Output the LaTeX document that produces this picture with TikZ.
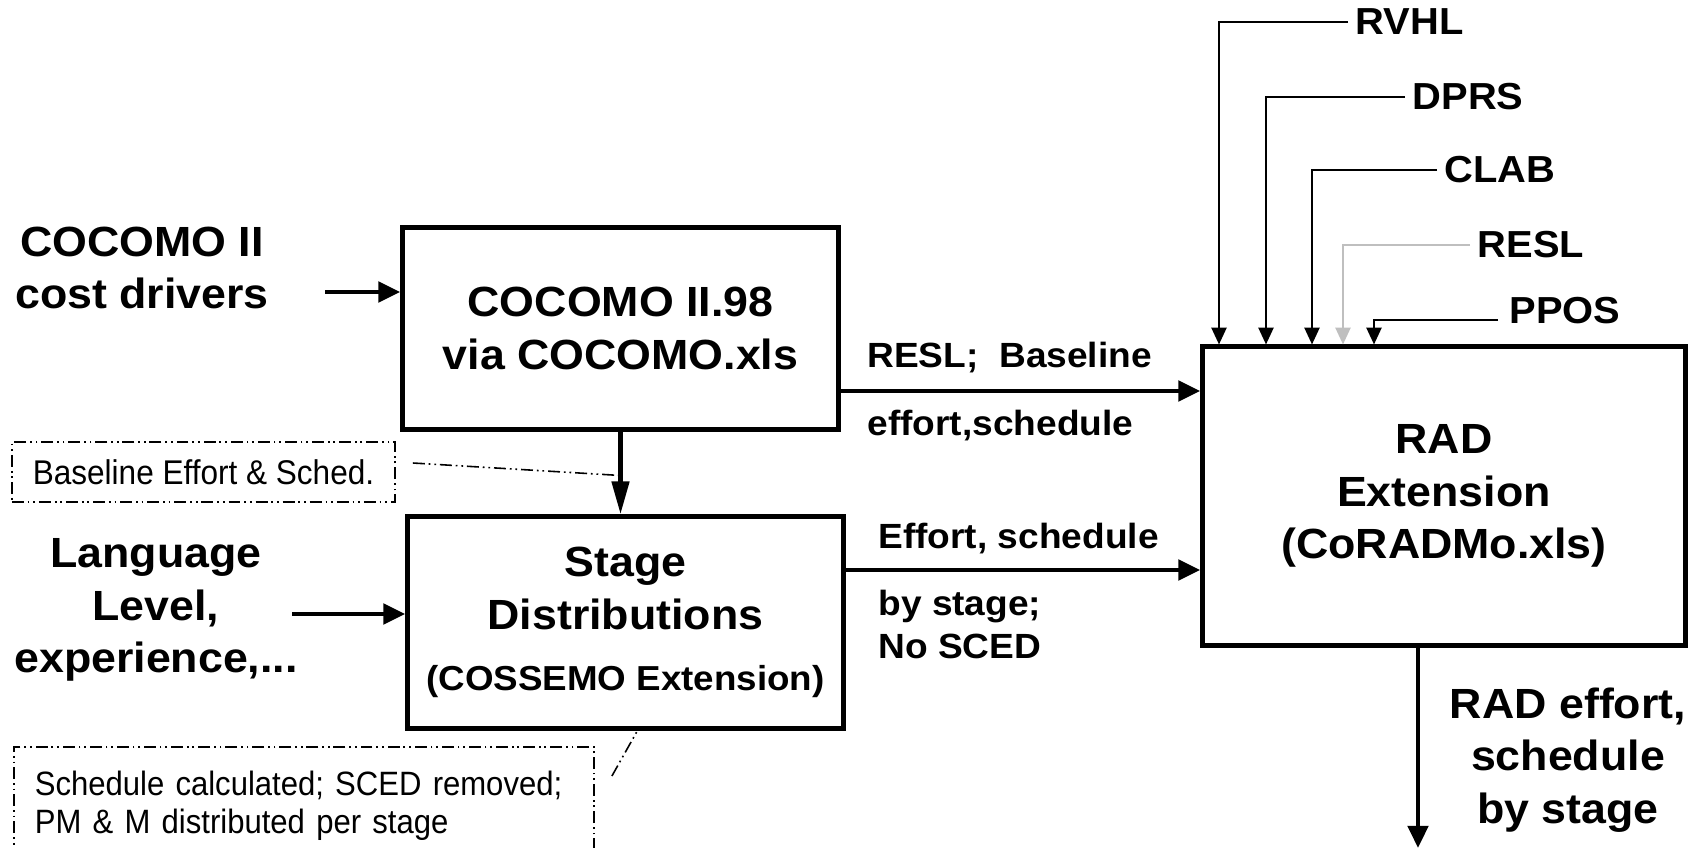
\documentclass[tikz,border=0pt]{standalone}
\usepackage{fontspec}
\setmainfont{Liberation Sans}[FakeStretch=1.06]
\newfontfamily\notefont{Liberation Sans}[FakeStretch=0.92]
\usetikzlibrary{arrows.meta,calc}

\begin{document}
\begin{tikzpicture}[x=0.01cm,y=-0.01cm,>={Triangle[length=6.3pt,width=5.7pt]},
        line width=1.4pt,
        box/.style={draw,line width=1.4pt,align=center,inner sep=0pt,
            font=\bfseries\fontsize{12}{15}\selectfont},
        big label/.style={align=center,font=\bfseries\fontsize{12}{15}\selectfont},
        flow label/.style={anchor=base west,inner sep=0pt,font=\bfseries\fontsize{9.95}{12}\selectfont},
        input label/.style={anchor=west,inner xsep=1.5pt,font=\bfseries\fontsize{10.7}{12}\selectfont},
        dashdotdot/.style={line width=0.45pt,
            dash pattern=on 3.4pt off 1.1pt on 0.5pt off 1.1pt on 0.5pt off 1.1pt},
        note/.style={draw,dashdotdot,inner sep=0pt,font=\notefont\fontsize{9.75}{10.8}\selectfont},
        in arrow/.style={-{Triangle[length=4.8pt,width=4.3pt]},line width=0.6pt}]

    \useasboundingbox (0,0) rectangle (1696,848);
    \clip (0,0) rectangle (1696,848);

    % boxes
    \node[box,minimum width=4.35cm,minimum height=2.01cm] (cocomo) at (620.5,328.5)
        {COCOMO II.98\\via COCOMO.xls};
    \node[box,minimum width=4.35cm,minimum height=2.11cm] (stage) at (625.5,622.5)
        {Stage\\Distributions\\[2.5pt]{\fontsize{9.86}{10}\selectfont(COSSEMO Extension)}};
    \node[box,minimum width=4.82cm,minimum height=2.98cm] (rad) at (1444,496)
        {RAD\\Extension\\(CoRADMo.xls)};

    % outside inputs and result
    \node[big label] (drivers) at (142,268) {COCOMO II\\cost drivers};
    \node[big label] (lang) at (156,610) {Language\\Level,\\experience,...};
    \node[big label] (result) at (1568,760) {RAD effort,\\schedule\\by stage};

    % notes
    \node[note,minimum width=3.83cm,minimum height=0.6cm] (basenote) at (203.5,472)
        {Baseline Effort \& Sched.};
    \node[note,anchor=north west,align=left,text width=5.38cm,inner xsep=0.21cm,
          inner ysep=7pt,font=\notefont\fontsize{9.6}{10.8}\selectfont] (scednote) at (13,746)
        {Schedule calculated; SCED removed;\\PM \& M distributed per stage};

    % flow labels
    \node[flow label] (basetop) at (865,367) {RESL;\ \ Baseline};
    \node[flow label] (basebot) at (865,435) {effort,schedule};
    \node[flow label] (stagetop) at (876,548) {Effort, schedule};
    \node[flow label] (stagebot) at (876,615) {by stage;};
    \node[flow label] (nosced) at (876,658) {No SCED};

    % RAD drivers
    \node[input label] (rvhl) at (1348,22) {RVHL};
    \node[input label] (dprs) at (1405,97) {DPRS};
    \node[input label] (clab) at (1437,170) {CLAB};
    \node[input label] (resl) at (1470,245) {RESL};
    \node[input label] (ppos) at (1502,311) {PPOS};

    \coordinate (d) at (325,292);
    \coordinate (l) at (292,614);
    \coordinate (o) at (1418,848);

    \draw[->] (d) -- (d -| cocomo.west);
    \draw[->] (l) -- (l -| stage.west);
    \draw[->,>={Triangle[length=9.4pt,width=4.8pt]}] (cocomo.south) -- (cocomo.south |- stage.north);
    \draw[->] (cocomo.east |- 0,391) -- (rad.west |- 0,391);
    \draw[->] (stage.east |- 0,570) -- (rad.west |- 0,570);
    \draw[->] (rad.south -| o) -- (o);

    \draw[in arrow] (rvhl.west) -| (rad.north -| 1219,0);
    \draw[in arrow] (dprs.west) -| (rad.north -| 1266,0);
    \draw[in arrow] (clab.west) -| (rad.north -| 1312,0);
    \draw[in arrow,black!25] (resl.west) -| (rad.north -| 1343,0);
    \draw[in arrow] ([shift={(-4,9)}]ppos.west) -| (rad.north -| 1374,0);

    \draw[dashdotdot] ([shift={(17,-9)}]basenote.east)
        -- ($(cocomo.south)!0.53!(cocomo.south |- stage.north)$);
    \draw[dashdotdot] ([shift={(17,30)}]scednote.north east) -- ([xshift=0.12cm]stage.south);
\end{tikzpicture}
\end{document}
